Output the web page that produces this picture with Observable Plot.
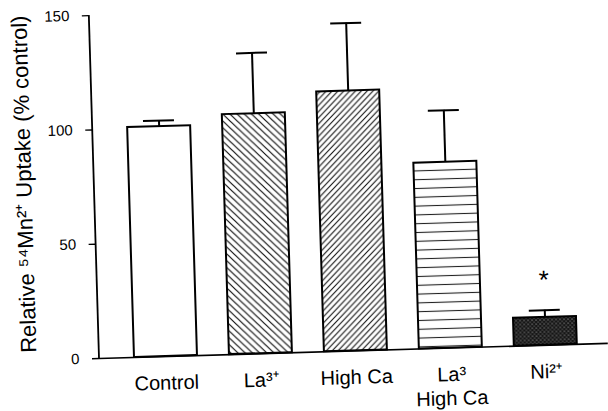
<!DOCTYPE html>
<html>
<head>
<meta charset="utf-8">
<script src="https://cdn.jsdelivr.net/npm/d3@7"></script>
<script src="https://cdn.jsdelivr.net/npm/@observablehq/plot@0.6"></script>
<style>
  html, body { margin: 0; padding: 0; background: #fff; }
  #chart svg { transform: rotate(-1.7deg); transform-origin: 99px 358px; overflow: visible !important; }
</style>
</head>
<body>
<div id="chart"></div>
<script>
// ---- data ----
const categories = ["Control", "La³⁺", "High Ca", "La³\nHigh Ca", "Ni²⁺"];
const uptake     = [100.6, 105, 113.7, 81.3, 12.2];   // % of control
const errorUp    = [2.6, 26.6, 29.7, 22.7, 3.1];      // upper error bar length
const significant = ["Ni²⁺"];                         // marked with *
const yTicks = [0, 50, 100, 150];
const yLabel = "Relative ⁵⁴Mn²⁺ Uptake (% control)";

// ---- styles (fill patterns per category) ----
const fills = ["white", "url(#hatchBack)", "url(#hatchFwd)", "url(#hatchHoriz)", "url(#stipple)"];

const rows = categories.map((c, i) => ({category: c, value: uptake[i], err: errorUp[i]}));
const starRows = rows.filter(r => significant.includes(r.category));

const plot = Plot.plot({
  width: 608,
  height: 411,
  marginLeft: 99,
  marginRight: 0,
  marginTop: 15,
  marginBottom: 53,
  style: {fontFamily: "'Liberation Sans', Arial, Helvetica, sans-serif", color: "black", background: "white", overflow: "visible"},
  x: {type: "band", domain: categories, range: [99, 612], paddingInner: 0.332, paddingOuter: 0.345, label: null},
  y: {domain: [0, 150], label: null},
  color: {type: "ordinal", domain: categories, range: fills},
  marks: [
    Plot.barY(rows, {x: "category", y: "value", fill: "category", stroke: "black", strokeWidth: 2}),
    Plot.ruleX(rows, {x: "category", y1: "value", y2: d => d.value + d.err, stroke: "black", strokeWidth: 2}),
    Plot.tickY(rows, {x: "category", y: d => d.value + d.err, stroke: "black", strokeWidth: 2, insetLeft: 16, insetRight: 16}),
    Plot.ruleY([0], {stroke: "black", strokeWidth: 1.6}),
    Plot.axisY({ticks: yTicks, tickSize: 7, tickPadding: 13, fontSize: 15, label: null, strokeWidth: 1.4}),
    Plot.axisX({tickSize: 0, tickPadding: 16, fontSize: 20, lineHeight: 1.2, label: null}),
    Plot.text([yLabel], {frameAnchor: "left", textAnchor: "middle", rotate: -90, dx: -70, dy: -5, fontSize: 22}),
    Plot.text(starRows, {x: "category", y: d => d.value + d.err, text: () => "*", dy: -30, fontSize: 26})
  ]
});

// patterns
const svg = d3.select(plot);
const defs = svg.insert("defs", ":first-child");
const pb = defs.append("pattern").attr("id", "hatchBack").attr("patternUnits", "userSpaceOnUse").attr("width", 7).attr("height", 7);
pb.append("rect").attr("width", 7).attr("height", 7).attr("fill", "white");
pb.append("path").attr("d", "M0,0L7,7M-1,6L1,8M6,-1L8,1").attr("stroke", "#111").attr("stroke-width", 1.2);
const pf = defs.append("pattern").attr("id", "hatchFwd").attr("patternUnits", "userSpaceOnUse").attr("width", 6).attr("height", 6);
pf.append("rect").attr("width", 6).attr("height", 6).attr("fill", "white");
pf.append("path").attr("d", "M0,6L6,0M-1,1L1,-1M5,7L7,5").attr("stroke", "#111").attr("stroke-width", 1.1);
const ph = defs.append("pattern").attr("id", "hatchHoriz").attr("patternUnits", "userSpaceOnUse").attr("width", 10).attr("height", 8.8);
ph.append("rect").attr("width", 10).attr("height", 8.8).attr("fill", "white");
ph.append("path").attr("d", "M0,4.4H10").attr("stroke", "#222").attr("stroke-width", 1.1);
const ps = defs.append("pattern").attr("id", "stipple").attr("patternUnits", "userSpaceOnUse").attr("width", 4).attr("height", 4);
ps.append("rect").attr("width", 4).attr("height", 4).attr("fill", "#161616");
ps.append("circle").attr("cx", 1).attr("cy", 1).attr("r", 0.6).attr("fill", "#ddd");
ps.append("circle").attr("cx", 3).attr("cy", 3).attr("r", 0.5).attr("fill", "#bbb");

// y-axis line drawn through the plot's own y scale
const ys = plot.scale("y");
svg.append("line")
  .attr("x1", 99).attr("x2", 99)
  .attr("y1", ys.apply(0)).attr("y2", ys.apply(150))
  .attr("stroke", "black").attr("stroke-width", 1.8);

document.getElementById("chart").append(plot);
</script>
</body>
</html>
